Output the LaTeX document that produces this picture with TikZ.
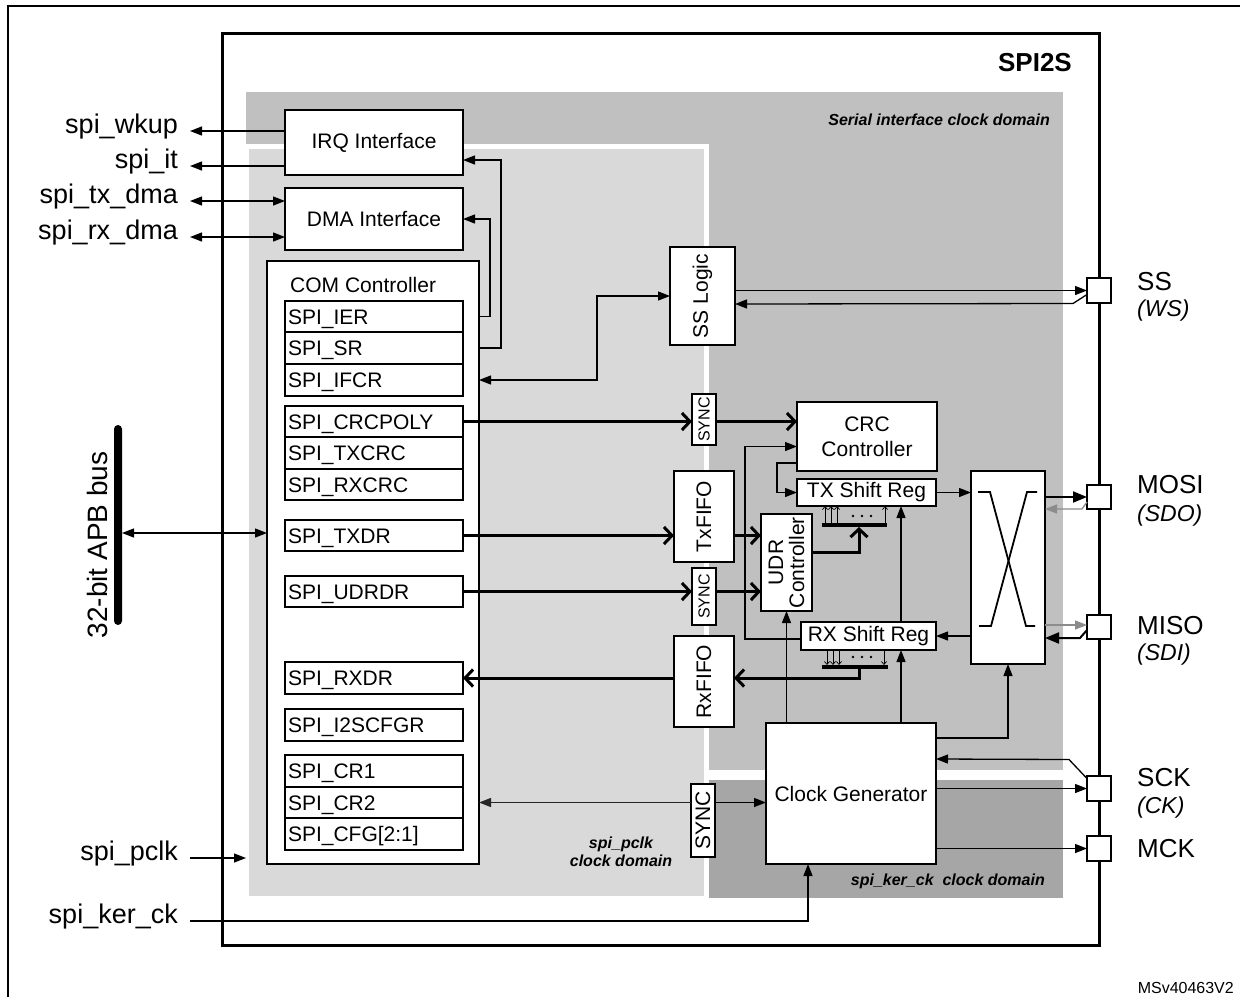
\documentclass[tikz,border=0pt]{standalone}
\usepackage{fontspec}
\setmainfont{Liberation Sans}
\usetikzlibrary{arrows.meta}
\newcommand{\fsz}[1]{\fontsize{#1}{#1}\selectfont}
\definecolor{serialgrey}{HTML}{C0C0C0}
\definecolor{pclkgrey}{HTML}{D9D9D9}
\definecolor{kergrey}{HTML}{A6A6A6}
\definecolor{retgrey}{HTML}{8C8C8C}
\begin{document}
\begin{tikzpicture}[x=1pt,y=-1pt,
  >={Triangle[length=12pt,width=9pt]},
  blk/.style={draw, fill=white, line width=1.8pt, inner sep=0pt, outer sep=0pt, anchor=north west, font=\fsz{21}, align=center},
  reg/.style={draw, fill=white, line width=1.2pt, inner xsep=3pt, inner ysep=0pt, outer sep=0pt, anchor=north west, text width=172pt, text height=15pt, text depth=0pt, align=left, font=\fsz{21}},
  pad/.style={draw, fill=white, line width=1.8pt, minimum width=24pt, minimum height=25pt, inner sep=0pt, outer sep=0pt, anchor=north west},
  dom/.style={anchor=north west, inner sep=0pt, outer sep=0pt},
  lbl/.style={font=\fsz{27}, inner sep=0pt},
  rlbl/.style={font=\fsz{26}, inner sep=0pt, anchor=west},
  ilbl/.style={font=\fsz{23}\itshape, inner sep=0pt, anchor=west},
  domlbl/.style={font=\fontsize{16}{18}\selectfont\bfseries\itshape, inner sep=0pt},
  rot/.style={rotate=90, inner sep=0pt, font=\fsz{21}},
  tarr/.style={line width=1.3pt, ->},
  darr/.style={line width=1.3pt, <->},
  thk/.style={line width=3pt, line join=miter, -{Straight Barb[length=8pt,width=17pt]}},
  tiny/.style={line width=0.7pt, -{Straight Barb[length=3pt,width=5pt]}},
  barn/.style={fill=black, inner sep=0pt, outer sep=0pt, minimum height=4pt}
]
\useasboundingbox (0,0) rectangle (1240,997);
% outer frame
\draw[line width=2pt] (8,997) -- (8,6) -- (1240,6);
% SPI2S block
\node[draw, line width=3pt, fill=white, minimum width=877pt, minimum height=912pt, anchor=north west, inner sep=0pt, outer sep=0pt] (spi) at (222,33) {};
% clock domains
\node[dom, fill=serialgrey, minimum width=817pt, minimum height=678pt] (serdom) at (246,92) {};
\node[dom, fill=pclkgrey, draw=white, line width=5pt, minimum width=460pt, minimum height=752pt] (pclkdom) at (246,146) {};
\node[dom, fill=kergrey, minimum width=354pt, minimum height=118pt] (kerdom) at (709,780) {};
% titles
\node[font=\fsz{26}\bfseries, inner sep=0pt, anchor=east] (title) at (1072,63) {SPI2S};
\node[domlbl, anchor=east] (serlbl) at (1050,120) {Serial interface clock domain};
\node[domlbl, align=center] (pclklbl) at (621,852) {spi\_pclk\\clock domain};
\node[domlbl, anchor=east] (kerlbl) at (1045,881) {spi\_ker\_ck\ \ clock domain};
\node[font=\fsz{16}, inner sep=0pt, anchor=east] (ref) at (1234,988) {MSv40463V2};
% left labels
\node[lbl, anchor=mid east] (wkup) at (178,131) {spi\_wkup};
\node[lbl, anchor=mid east] (it) at (178,166) {spi\_it};
\node[lbl, anchor=mid east] (txdma) at (178,201) {spi\_tx\_dma};
\node[lbl, anchor=mid east] (rxdma) at (178,237) {spi\_rx\_dma};
\node[lbl, anchor=mid east] (pclk) at (178,858) {spi\_pclk};
\node[lbl, anchor=mid east] (kerck) at (178,921) {spi\_ker\_ck};
% APB bus
\node[fill=black, rounded corners=4pt, minimum width=8pt, minimum height=200pt, inner sep=0pt, outer sep=0pt] (bus) at (118,525) {};
\node[rot, font=\fsz{28}] (apblbl) at (97,545) {32-bit APB bus};
% interfaces
\node[blk, minimum width=178pt, minimum height=65pt] (irq) at (285,110) {IRQ Interface};
\node[blk, minimum width=178pt, minimum height=62pt] (dma) at (285,188) {DMA Interface};
% COM controller
\node[blk, minimum width=212pt, minimum height=603pt] (com) at (267,261) {};
\node[font=\fsz{21}, anchor=west, inner sep=0pt] (comlbl) at (290,285) {COM Controller};
\node[reg, minimum height=31pt] (ier) at (285,301) {SPI\_IER};
\node[reg, minimum height=32pt] (sr) at (285,332) {SPI\_SR};
\node[reg, minimum height=32pt] (ifcr) at (285,364) {SPI\_IFCR};
\node[reg, minimum height=31pt] (crcpoly) at (285,406) {SPI\_CRCPOLY};
\node[reg, minimum height=32pt] (txcrc) at (285,437) {SPI\_TXCRC};
\node[reg, minimum height=31pt] (rxcrc) at (285,469) {SPI\_RXCRC};
\node[reg, minimum height=31pt] (txdr) at (285,520) {SPI\_TXDR};
\node[reg, minimum height=31pt] (udrdr) at (285,576) {SPI\_UDRDR};
\node[reg, minimum height=32pt] (rxdr) at (285,662) {SPI\_RXDR};
\node[reg, minimum height=32pt] (i2scfgr) at (285,709) {SPI\_I2SCFGR};
\node[reg, minimum height=32pt] (cr1) at (285,755) {SPI\_CR1};
\node[reg, minimum height=31pt] (cr2) at (285,787) {SPI\_CR2};
\node[reg, minimum height=32pt] (cfg) at (285,818) {SPI\_CFG[2:1]};
% SS logic
\node[blk, minimum width=65pt, minimum height=98pt] (ssl) at (670,247) {};
\node[rot] (sslt) at (ssl.center) {SS Logic};
% SYNC blocks
\node[blk, minimum width=24pt, minimum height=51pt] (sync1) at (692,394) {};
\node[rot, font=\fsz{16}] (sync1t) at (sync1.center) {SYNC};
\node[blk, minimum width=24pt, minimum height=57pt] (sync2) at (692,568) {};
\node[rot, font=\fsz{16}] (sync2t) at (sync2.center) {SYNC};
\node[blk, minimum width=24pt, minimum height=73pt] (sync3) at (691,784) {};
\node[rot] (sync3t) at (sync3.center) {SYNC};
% FIFOs
\node[blk, minimum width=60pt, minimum height=91pt] (txfifo) at (674,471) {};
\node[rot] (txfifot) at (txfifo.center) {TxFIFO};
\node[blk, minimum width=60pt, minimum height=91pt] (rxfifo) at (674,636) {};
\node[rot] (rxfifot) at (rxfifo.center) {RxFIFO};
% UDR controller
\node[blk, minimum width=51pt, minimum height=97pt] (udr) at (761,514) {};
\node[rot, align=center, font=\fontsize{21}{21}\selectfont] (udrt) at (udr.center) {UDR\\Controller};
% CRC and shift registers
\node[blk, minimum width=140pt, minimum height=69pt, font=\fontsize{21}{25}\selectfont] (crc) at (797,402) {CRC\\Controller};
\node[blk, minimum width=139pt, minimum height=27pt] (txsr) at (797,479) {TX Shift Reg};
\node[blk, minimum width=135pt, minimum height=28pt] (rxsr) at (801,622) {RX Shift Reg};
\node[barn, minimum width=65pt] (txbar) at (854.5,525) {};
\node[barn, minimum width=66pt] (rxbar) at (855,667) {};
% ellipsis dots between bit lines
\foreach \xx in {853,862,871} {
  \fill (\xx,516) circle (1.4pt);
  \fill (\xx,657) circle (1.4pt);
}
% crossbar
\node[blk, minimum width=74pt, minimum height=193pt] (xbar) at (971,471) {};
\begin{scope}[shift={(xbar.north west)}, line width=1.8pt]
\draw (7,21) -- (19,21) -- (55,155) -- (64,155);
\draw (66,21) -- (56,21) -- (20,155) -- (8,155);
\end{scope}
% clock generator
\node[blk, minimum width=170pt, minimum height=141pt] (clk) at (766,723) {Clock Generator};
% pads
\node[pad] (sspad) at (1087,278) {};
\node[pad, minimum height=24pt] (mosipad) at (1087,485) {};
\node[pad, minimum height=24pt] (misopad) at (1087,615) {};
\node[pad] (sckpad) at (1087,776) {};
\node[pad] (mckpad) at (1087,836) {};
\node[rlbl] (sslbl) at (1137,282) {SS};
\node[ilbl] (wslbl) at (1137,311) {(WS)};
\node[rlbl] (mosilbl) at (1137,485) {MOSI};
\node[ilbl] (sdolbl) at (1137,516) {(SDO)};
\node[rlbl] (misolbl) at (1137,626) {MISO};
\node[ilbl] (sdilbl) at (1137,655) {(SDI)};
\node[rlbl] (scklbl) at (1137,778) {SCK};
\node[ilbl] (cklbl) at (1137,808) {(CK)};
\node[rlbl] (mcklbl) at (1137,849) {MCK};

% ---- connectors ----
\draw[tarr] (irq.west |- wkup.mid east) -- ([xshift=12pt]wkup.mid east);
\draw[tarr] (irq.west |- it.mid east) -- ([xshift=12pt]it.mid east);
\draw[darr] ([xshift=12pt]txdma.mid east) -- (dma.west |- txdma.mid east);
\draw[darr] ([xshift=12pt]rxdma.mid east) -- (dma.west |- rxdma.mid east);
\draw[tarr] ([xshift=12pt]pclk.mid east) -- (pclkdom.west |- pclk.mid east);
\draw[tarr] ([xshift=12pt]kerck.mid east) -| ([xshift=42pt]clk.south west);
\draw[darr] (bus.east |- 0,533) -- (com.west |- 0,533);
% feedback to interfaces
\draw[tarr] (com.east |- sr.east) -- ++(22,0) |- ([yshift=15pt]irq.south east);
\draw[tarr] (com.east |- ier.east) -- ++(11,0) |- (dma.east);
\draw[darr] (com.east |- ifcr.east) -- ++(118,0) |- (ssl.west);
% thick data paths
\draw[thk] (crcpoly.east) -- (sync1.west |- crcpoly.east);
\draw[thk] (sync1.east |- crcpoly.east) -- (crc.west |- crcpoly.east);
\draw[thk] (txdr.east) -- (txfifo.west |- txdr.east);
\draw[thk] (txfifo.east |- txdr.east) -- (udr.west |- txdr.east);
\draw[thk] (udrdr.east) -- (sync2.west |- udrdr.east);
\draw[thk] (sync2.east |- udrdr.east) -- (udr.west |- udrdr.east);
\draw[thk] (udr.east |- 0,552) -| ([xshift=4.5pt]txbar.south);
\draw[thk] ([xshift=4pt]rxbar.south) |- (rxfifo.east |- rxdr.east);
\draw[thk] (rxfifo.west |- rxdr.east) -- (rxdr.east);
% bit arrows
\foreach \xx in {825,831,837,885} \draw[tiny] (\xx,0 |- txbar.north) -- (\xx,0 |- txsr.south);
\foreach \xx in {827,833,839,884} \draw[tiny] (\xx,0 |- rxsr.south) -- (\xx,0 |- rxbar.north);
% CRC
\draw[tarr] ([yshift=8pt]crc.south west) -- ++(-20,0) |- (txsr.west);
\draw[tarr] ([yshift=-3pt]rxsr.west) -- ++(-56,0) |- ([yshift=-10pt]crc.west);
% shift regs and crossbar
\draw[tarr] (txsr.east) -- (xbar.west |- txsr.east);
\draw[tarr] (xbar.west |- rxsr.east) -- (rxsr.east);
% clock generator
\draw[tarr] (udr.south |- clk.north) -- (udr.south);
\draw[tarr] (901,0 |- clk.north) -- (901,0 |- rxsr.south);
\draw[tarr] (901,0 |- rxsr.north) -- (901,0 |- txsr.south);
\draw[tarr] ([yshift=-15pt]clk.north east) -| (xbar.south);
\draw[tarr] (sync3.east |- cr2.east) -- (clk.west |- cr2.east);
\draw[tarr, draw=black!85, fill=black!85] (sync3.west |- cr2.east) -- (com.east |- cr2.east);
% pad connectors
\draw[tarr] (ssl.east |- sspad.west) -- (sspad.west);
\draw[tarr] ([yshift=-4pt]sspad.west) -- ++(-14,9) -- (ssl.east |- 0,304);
\draw[line width=2pt, -{Triangle[length=14pt,width=11pt]}] (xbar.east |- mosipad.west) -- (mosipad.west);
\draw[line width=1.3pt, draw=retgrey, -{Triangle[length=12pt,width=9pt]}, retgrey] ([yshift=-5pt]mosipad.west) -- ++(-5,7) -- (xbar.east |- 0,509);
\draw[line width=1.3pt, draw=retgrey, -{Triangle[length=12pt,width=9pt]}, retgrey] (xbar.east |- 0,625) -- ([yshift=2pt]misopad.west);
\draw[line width=2pt, -{Triangle[length=14pt,width=11pt]}] ([yshift=-3pt]misopad.west) -- ++(-7,8) -- (xbar.east |- 0,638);
\draw[tarr] ([yshift=10pt]sckpad.west) -- ++(-18,-19) -- (clk.east |- 0,759);
\draw[tarr] (clk.east |- sckpad.west) -- (sckpad.west);
\draw[tarr] (clk.east |- mckpad.west) -- (mckpad.west);
\end{tikzpicture}
\end{document}
